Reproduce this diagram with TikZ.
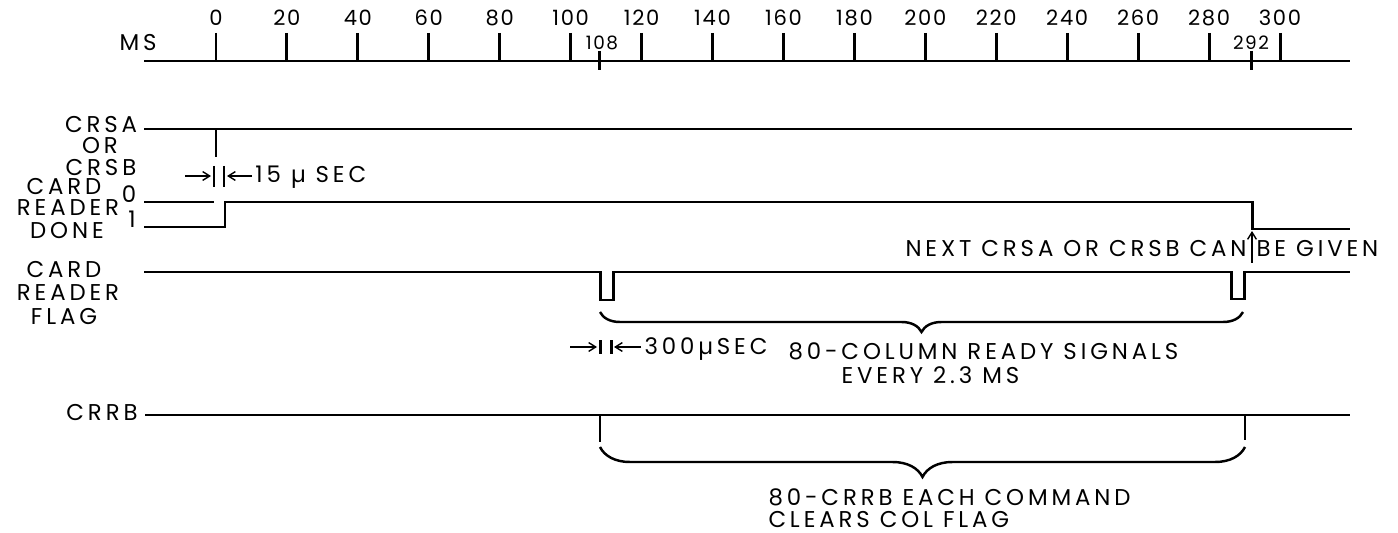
\documentclass[tikz,border=0pt]{standalone}
\usepackage{fontspec}
\setmainfont{Poppins}[LetterSpace=17]
\newfontfamily\digitfont{Poppins}[LetterSpace=8]
\usetikzlibrary{decorations.pathreplacing,arrows.meta}

\begin{document}
\begin{tikzpicture}[x=.02cm,y=-.02cm,line width=1.7pt,
  every node/.style={inner sep=0pt,text height=8.6pt,text depth=0pt,font=\fontsize{13}{13}\selectfont},
  ticklabel/.style={font=\digitfont\fontsize{12}{13}\selectfont,text height=8pt},
  small/.style={font=\digitfont\fontsize{10.5}{11}\selectfont,text height=7pt},
  thinline/.style={line width=1.1pt},
  dimarrow/.style={line width=.8pt,-{Straight Barb[length=4pt,width=5pt]}},
  brc/.style={decorate,decoration={brace,mirror,amplitude=#1},line width=1.4pt}]
 \useasboundingbox (0,0) rectangle (1398,533);
 % time axis in ms
 \draw (144,61)--(1350,61);
 \node (ms) at (138,43) {MS};
 \foreach \t in {0,20,...,300}{
  \draw ({216+3.5467*\t},33)--({216+3.5467*\t},61);
  \node[ticklabel] (t\t) at ({216+3.5467*\t},18) {\t};
 }
 \draw (599,51)--(599,70);
 \node[small] (t108) at (602,43) {108};
 \draw (1251,51)--(1251,70);
 \node[small] (t292) at (1251,43) {292};
 % CRSA or CRSB
 \node (crsa) at (101,125) {CRSA};
 \node (or) at (100,146) {OR};
 \node (crsb) at (101,168) {CRSB};
 \draw (144,129)--(1352,129);
 \draw[thinline] (216,129)--(216,157);
 \draw (214,166)--(214,187);
 \draw (224,166)--(224,187);
 \draw[dimarrow] (185,176)--(211,176);
 \draw[dimarrow] (252,176)--(227,176);
 \node[anchor=west] (us15) at (254,175) {15 µ SEC};
 % card reader done
 \node (card1) at (64,187) {CARD};
 \node (reader1) at (68,208) {READER};
 \node (done) at (67,231) {DONE};
 \node (zero) at (129,195) {0};
 \node (one) at (132,220) {1};
 \draw (144,202)--(214,202);
 \draw (144,227)--(225,227)--(225,202)--(1252,202)--(1252,229)--(1350,229);
 \node[anchor=east] (next) at (1248,249) {NEXT CRSA OR CRSB CAN};
 \node[anchor=west] (given) at (1255,249) {BE GIVEN};
 \draw[dimarrow] (1252,263)--(1252,231);
 % card reader flag
 \node (card2) at (64,270) {CARD};
 \node (reader2) at (68,293) {READER};
 \node (flag) at (64,317) {FLAG};
 \draw (144,272)--(600,272)--(600,300)--(613,300)--(613,272)--(1231,272)
   --(1231,299)--(1244,299)--(1244,272)--(1350,272);
 \draw[brc=.4cm] (600,312)--(1243,312);
 \draw (600,340)--(600,354);
 \draw (611,340)--(611,354);
 \draw[dimarrow] (570,347)--(597,347);
 \draw[dimarrow] (641,347)--(614,347);
 \node[anchor=west] (us300) at (643,347) {300µSEC};
 \node[anchor=west] (ready) at (787,352) {80-COLUMN READY SIGNALS};
 \node[anchor=west] (every) at (840,376) {EVERY 2.3 MS};
 % CRRB
 \node (crrb) at (102,413) {CRRB};
 \draw (145,415)--(1350,415);
 \draw[thinline] (600,415)--(600,442);
 \draw[thinline] (1245,415)--(1245,440);
 \draw[brc=.6cm] (600,447)--(1245,447);
 \node[anchor=west] (each) at (767,498) {80-CRRB EACH COMMAND};
 \node[anchor=west] (clears) at (767,520) {CLEARS COL FLAG};
\end{tikzpicture}
\end{document}
